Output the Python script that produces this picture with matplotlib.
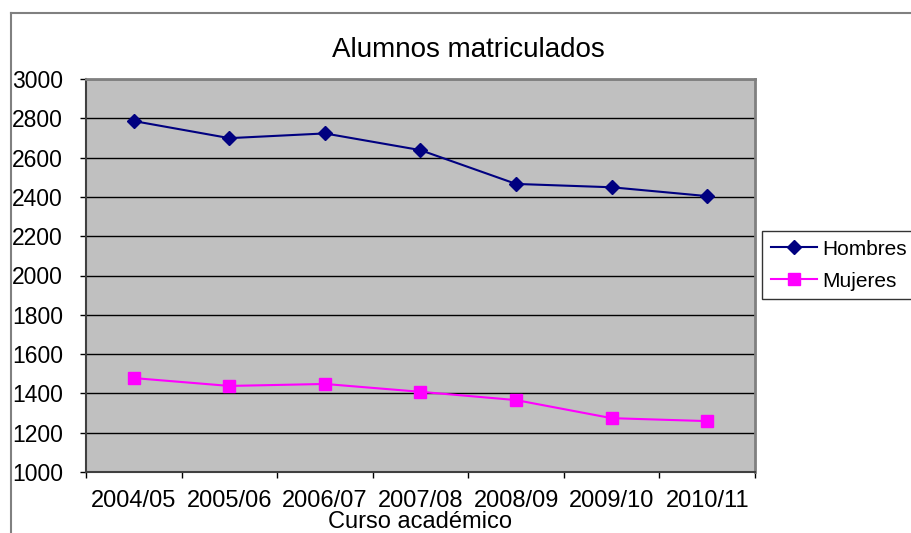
import matplotlib
matplotlib.use("Agg")
import matplotlib.pyplot as plt
from matplotlib.lines import Line2D

plt.rcParams['font.family'] = ['Liberation Sans', 'DejaVu Sans']

categories = ["2004/05", "2005/06", "2006/07", "2007/08", "2008/09", "2009/10", "2010/11"]
hombres = [2786, 2699, 2723, 2638, 2466, 2449, 2404]
mujeres = [1478, 1438, 1448, 1408, 1366, 1274, 1259]
yticks = [1000, 1200, 1400, 1600, 1800, 2000, 2200, 2400, 2600, 2800, 3000]

W, H = 911, 533
fig = plt.figure(figsize=(W/100, H/100), dpi=100)
ax = fig.add_axes([86/W, 1-472/H, (755-86)/W, (472-79)/H])
ax.set_facecolor('#c0c0c0')

x = list(range(len(categories)))
ax.plot(x, hombres, color='#000080', marker='D', markersize=7, lw=1.5, label='Hombres')
ax.plot(x, mujeres, color='#ff00ff', marker='s', markersize=9, lw=1.5, label='Mujeres')

ax.set_xlim(-0.5, len(categories)-0.5)
ax.set_ylim(1000, 3000)
ax.set_yticks(yticks)
ax.set_yticklabels([str(v) for v in yticks], fontsize=16.5)
ax.set_xticks([i-0.5 for i in range(len(categories)+1)])
ax.set_xticklabels([])
ax.set_xticks(x, minor=True)
ax.set_xticklabels(categories, minor=True, fontsize=17)
ax.tick_params(axis='x', which='minor', length=0, pad=13)
ax.tick_params(axis='x', which='major', length=4.5, width=1, color='#000000', direction='out')
ax.tick_params(axis='y', length=4.5, width=1, direction='out', pad=12)
ax.grid(axis='y', color='#000000', lw=1)
ax.set_axisbelow(True)

for s in ['top', 'right']:
    ax.spines[s].set_color('#808080')
    ax.spines[s].set_linewidth(2)
for s in ['left', 'bottom']:
    ax.spines[s].set_color('#404040')
    ax.spines[s].set_linewidth(1.5)

ax.set_xlabel('Curso académico', fontsize=17, labelpad=-1)
fig.text((330+606)/2/W, 1-50/H, 'Alumnos matriculados', fontsize=20, ha='center', va='center')

leg = fig.legend(handles=[Line2D([], [], color='#000080', marker='D', markersize=7, lw=1.5, label='Hombres'),
                          Line2D([], [], color='#ff00ff', marker='s', markersize=9, lw=1.5, label='Mujeres')],
                 loc='upper left', bbox_to_anchor=(762/W, 1-231/H), fontsize=15,
                 frameon=True, fancybox=False, edgecolor='#000000', borderpad=0.42,
                 handlelength=2.2, handletextpad=0.25, labelspacing=0.62, borderaxespad=0)
leg.get_frame().set_linewidth(1)

# outer chart border
fig.add_artist(Line2D([11/W, 11/W], [0, 1-13/H], transform=fig.transFigure, color='#808080', lw=1.5))
fig.add_artist(Line2D([11/W, 1], [1-13/H, 1-13/H], transform=fig.transFigure, color='#808080', lw=1.5))

fig.savefig('out.png', dpi=100)
